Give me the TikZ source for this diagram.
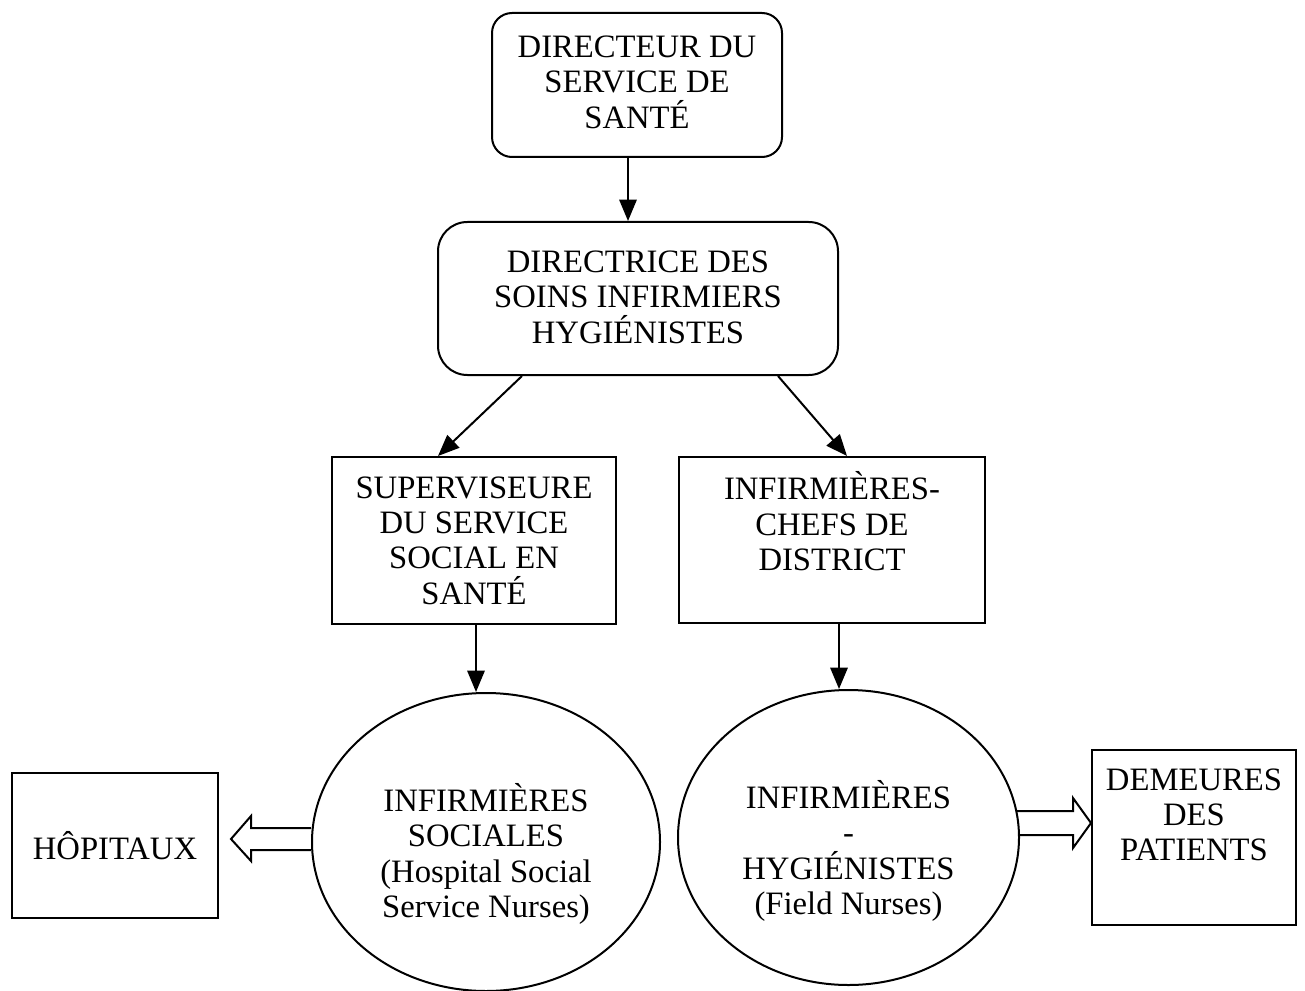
\documentclass[tikz,border=0pt]{standalone}
\usepackage{fontspec}
\setmainfont{Liberation Serif}
\usetikzlibrary{arrows.meta,shapes.geometric}
\begin{document}
\begin{tikzpicture}[x=0.75pt,y=-0.75pt,
  shp/.style={draw,line width=1.5pt,inner sep=0pt},
  rbox/.style={shp,rectangle,rounded corners=15pt},
  sbox/.style={shp,rectangle},
  oval/.style={shp,ellipse},
  lbl/.style={align=center,font=\fontsize{24.5}{26.5}\selectfont,inner sep=0pt},
  arr/.style={line width=1.5pt,-{Triangle[length=16pt,width=13pt]}},
  blk/.style={line width=1.5pt,line join=miter}]
\useasboundingbox (0,0) rectangle (1305,991);

% shapes
\node[rbox,minimum width=217.5pt,minimum height=108pt] (d1) at (637,85) {};
\node[rbox,rounded corners=22pt,minimum width=300pt,minimum height=114.75pt] (d2) at (638,298.5) {};
\node[sbox,minimum width=213pt,minimum height=125.25pt] (s3) at (474,540.5) {};
\node[sbox,minimum width=229.5pt,minimum height=124.5pt] (s4) at (832,540) {};
\node[oval,minimum width=261pt,minimum height=223.5pt] (e1) at (486,842) {};
\node[oval,minimum width=255.75pt,minimum height=221.25pt] (e2) at (848.5,837.5) {};
\node[sbox,minimum width=154.5pt,minimum height=108.75pt] (hp) at (115,845.5) {};
\node[sbox,minimum width=153pt,minimum height=131.25pt] (dm) at (1194,837.5) {};

% texts
\node[lbl] (t1) at ([yshift=2pt]d1.center) {DIRECTEUR DU\\SERVICE DE\\SANTÉ};
\node[lbl] (t2) at ([yshift=1pt]d2.center) {DIRECTRICE DES\\SOINS INFIRMIERS\\HYGIÉNISTES};
\node[lbl] (t3) at (s3.center) {SUPERVISEURE\\DU SERVICE\\SOCIAL EN\\SANTÉ};
\node[lbl] (t4) at ([yshift=14pt]s4.center) {INFIRMIÈRES-\\CHEFS DE\\DISTRICT};
\node[lbl] (t5) at ([yshift=-9pt]e1.center) {INFIRMIÈRES\\SOCIALES\\(Hospital Social\\Service Nurses)};
\node[lbl] (t6) at ([yshift=-10pt]e2.center) {INFIRMIÈRES\\-\\HYGIÉNISTES\\(Field Nurses)};
\node[lbl] (t7) at (hp.center) {HÔPITAUX};
\node[lbl] (t8) at ([yshift=17pt]dm.center) {DEMEURES\\DES\\PATIENTS};

% connectors
\draw[arr] ([xshift=-6.75pt]d1.south) -- ([xshift=-6.75pt]d1.south |- d2.north);
\draw[arr] ([xshift=-87pt]d2.south) -- ([xshift=-27pt]s3.north);
\draw[arr] ([xshift=105pt]d2.south) -- ([xshift=11.25pt]s4.north);
\draw[arr] ([xshift=1.5pt]s3.south) -- ([xshift=1.5pt]s3.south |- e1.north);
\draw[arr] ([xshift=5.25pt]s4.south) -- ([xshift=5.25pt]s4.south |- e2.north);

% block arrows
\draw[blk] ([shift={(0,-14)}]e1.west) -- ++(-60,0) -- ++(0,-12) -- ++(-20,23)
  -- ++(20,22) -- ++(0,-11) -- ++(60,0);
\draw[blk] ([shift={(-3,-26.5)}]e2.east) -- ++(56,0) -- ++(0,-13) -- ++(18,25)
  -- ++(-18,25) -- ++(0,-13) -- ++(-53,0);
\end{tikzpicture}
\end{document}
